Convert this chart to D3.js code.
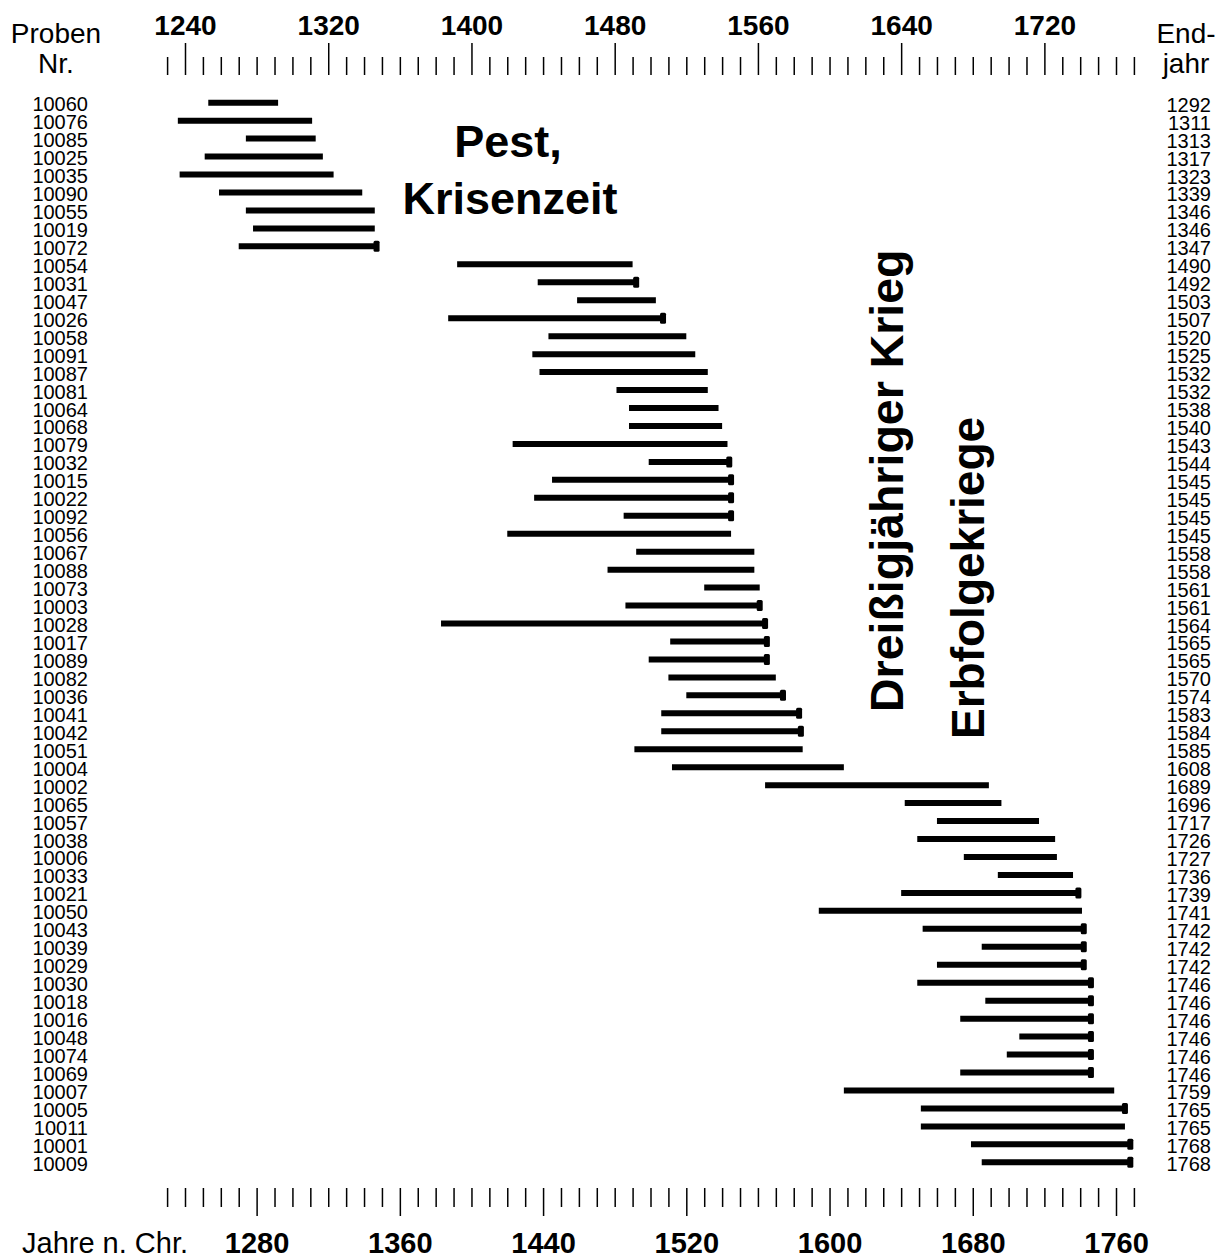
<!DOCTYPE html>
<html>
<head>
<meta charset="utf-8">
<script src="https://cdn.jsdelivr.net/npm/d3@7"></script>
<style>
  body { margin: 0; background: #fff; }
  svg { display: block; font-family: "Liberation Sans", Arial, sans-serif; }
</style>
</head>
<body>
<svg width="1227" height="1260"></svg>
<script>
// Probennummern, Anfangs- und Endjahre, Waldkante (Endmarke)
const probenNr = [
  '10060', '10076', '10085', '10025', '10035', '10090', '10055', '10019', '10072',
  '10054', '10031', '10047', '10026', '10058', '10091', '10087', '10081', '10064',
  '10068', '10079', '10032', '10015', '10022', '10092', '10056', '10067', '10088',
  '10073', '10003', '10028', '10017', '10089', '10082', '10036', '10041', '10042',
  '10051', '10004', '10002', '10065', '10057', '10038', '10006', '10033', '10021',
  '10050', '10043', '10039', '10029', '10030', '10018', '10016', '10048', '10074',
  '10069', '10007', '10005', '10011', '10001', '10009'
]
const startJahr = [
  1253, 1236, 1274, 1251, 1237, 1259, 1274, 1278, 1270,
  1392, 1437, 1459, 1387, 1443, 1434, 1438, 1481, 1488,
  1488, 1423, 1499, 1445, 1435, 1485, 1420, 1492, 1476,
  1530, 1486, 1383, 1511, 1499, 1510, 1520, 1506, 1506,
  1491, 1512, 1564, 1642, 1660, 1649, 1675, 1694, 1640,
  1594, 1652, 1685, 1660, 1649, 1687, 1673, 1706, 1699,
  1673, 1608, 1651, 1651, 1679, 1685
]
const endJahr = [
  1292, 1311, 1313, 1317, 1323, 1339, 1346, 1346, 1347,
  1490, 1492, 1503, 1507, 1520, 1525, 1532, 1532, 1538,
  1540, 1543, 1544, 1545, 1545, 1545, 1545, 1558, 1558,
  1561, 1561, 1564, 1565, 1565, 1570, 1574, 1583, 1584,
  1585, 1608, 1689, 1696, 1717, 1726, 1727, 1736, 1739,
  1741, 1742, 1742, 1742, 1746, 1746, 1746, 1746, 1746,
  1746, 1759, 1765, 1765, 1768, 1768
]
const waldkante = [
  0, 0, 0, 0, 0, 0, 0, 0, 1,
  0, 1, 0, 1, 0, 0, 0, 0, 0,
  0, 0, 1, 1, 1, 1, 0, 0, 0,
  0, 1, 1, 1, 1, 0, 1, 1, 1,
  0, 0, 0, 0, 0, 0, 0, 0, 1,
  0, 1, 1, 1, 1, 1, 1, 1, 1,
  1, 0, 1, 0, 1, 1
]
const tickJahre = d3.range(1230, 1771, 10)

const proben = probenNr.map((nr, i) => ({
  nr: nr, start: startJahr[i], end: endJahr[i], wk: waldkante[i] === 1
}))

const svg = d3.select('svg')

const x = d3.scaleLinear()
    .domain([1240, 1760])
    .range([185, 1116])

const y = d3.scalePoint()
    .domain(probenNr)
    .range([102.7, 1162.3])

// obere Achse
const topAxis = d3.axisTop(x)
    .tickValues(tickJahre)
    .tickSizeInner(18)
    .tickSizeOuter(0)
    .tickFormat(d => (d - 1240) % 80 === 0 ? d : '')

const gTop = svg.append('g')
    .attr('transform', 'translate(0,75)')
    .call(topAxis)
gTop.select('.domain').remove()
gTop.selectAll('.tick line')
    .attr('stroke', '#000')
    .attr('stroke-width', 1.5)
    .attr('y2', d => (d - 1240) % 80 === 0 ? -32 : -18)
gTop.selectAll('.tick text')
    .attr('y', -40)
    .attr('dy', 0)
    .attr('fill', '#000')
    .style('font-family', '"Liberation Sans", Arial, sans-serif')
    .style('font-size', '28px')
    .style('font-weight', 'bold')

// untere Achse
const bottomAxis = d3.axisBottom(x)
    .tickValues(tickJahre)
    .tickSizeInner(19)
    .tickSizeOuter(0)
    .tickFormat(d => (d - 1280) % 80 === 0 ? d : '')

const gBottom = svg.append('g')
    .attr('transform', 'translate(0,1188)')
    .call(bottomAxis)
gBottom.select('.domain').remove()
gBottom.selectAll('.tick line')
    .attr('stroke', '#000')
    .attr('stroke-width', 1.5)
    .attr('y2', d => (d - 1280) % 80 === 0 ? 28 : 19)
gBottom.selectAll('.tick text')
    .attr('y', 65)
    .attr('dy', 0)
    .attr('fill', '#000')
    .style('font-family', '"Liberation Sans", Arial, sans-serif')
    .style('font-size', '29px')
    .style('font-weight', 'bold')

// Balken
svg.append('g')
  .selectAll('line')
  .data(proben)
  .join('line')
    .attr('x1', d => x(d.start))
    .attr('x2', d => x(d.end))
    .attr('y1', d => y(d.nr))
    .attr('y2', d => y(d.nr))
    .attr('stroke', '#000')
    .attr('stroke-width', 6)

// Waldkante
svg.append('g')
  .selectAll('rect')
  .data(proben.filter(d => d.wk))
  .join('rect')
    .attr('x', d => x(d.end) - 3)
    .attr('y', d => y(d.nr) - 5.5)
    .attr('width', 6)
    .attr('height', 11)
    .attr('rx', 1.5)
    .attr('fill', '#000')

// Beschriftung links / rechts
svg.append('g')
  .selectAll('text')
  .data(proben)
  .join('text')
    .attr('x', 88)
    .attr('y', d => y(d.nr) + 8.5)
    .attr('text-anchor', 'end')
    .style('font-size', '20px')
    .text(d => d.nr)

svg.append('g')
  .selectAll('text')
  .data(proben)
  .join('text')
    .attr('x', 1211)
    .attr('y', d => y(d.nr) + 9)
    .attr('text-anchor', 'end')
    .style('font-size', '20px')
    .text(d => d.end)

// Kopf- und Fusstexte
const kopf = svg.append('g').style('font-size', '28px').attr('text-anchor', 'middle')
kopf.append('text').attr('x', 56).attr('y', 43).text('Proben')
kopf.append('text').attr('x', 56).attr('y', 73).text('Nr.')
kopf.append('text').attr('x', 1186).attr('y', 43).text('End-')
kopf.append('text').attr('x', 1186).attr('y', 73).text('jahr')

svg.append('text')
    .attr('x', 22)
    .attr('y', 1253)
    .style('font-size', '29px')
    .text('Jahre n. Chr.')

// Ereignisse
const ann = svg.append('g').style('font-size', '45px').style('font-weight', 'bold')
ann.append('text').attr('x', 508).attr('y', 157).attr('text-anchor', 'middle').text('Pest,')
ann.append('text').attr('x', 510).attr('y', 214).attr('text-anchor', 'middle').text('Krisenzeit')
ann.append('text')
    .attr('transform', 'translate(903,712) rotate(-90)')
    .style('font-size', '46.5px')
    .text('Dreißigjähriger Krieg')
ann.append('text')
    .attr('transform', 'translate(984,739) rotate(-90)')
    .style('font-size', '46px')
    .text('Erbfolgekriege')
</script>
</body>
</html>
